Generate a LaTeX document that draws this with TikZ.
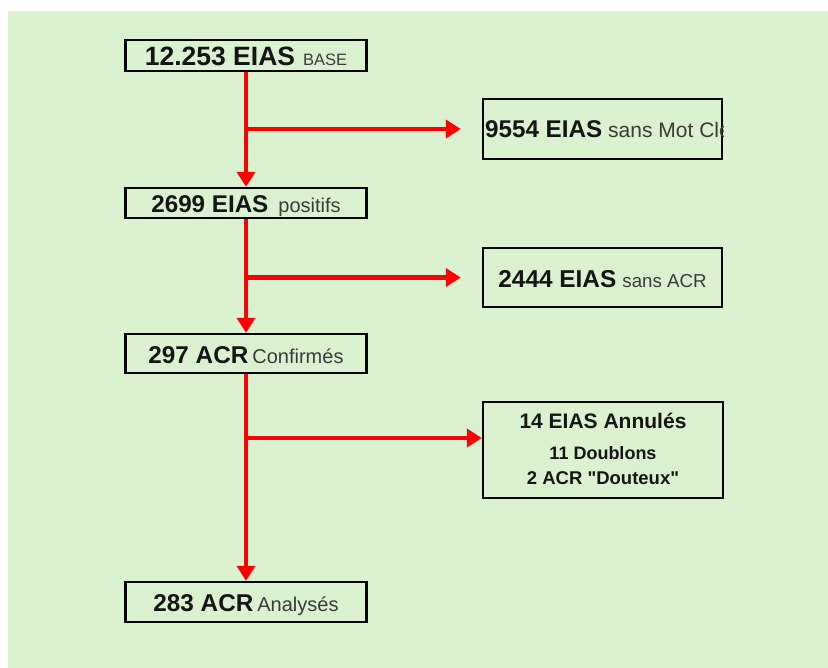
\documentclass[tikz,border=0pt]{standalone}
\usepackage{fontspec}
\setmainfont{Liberation Sans}
\usetikzlibrary{arrows.meta,calc}
\definecolor{bggreen}{HTML}{DAF2D0}
\definecolor{flowred}{HTML}{FF0000}
\definecolor{subgray}{HTML}{3A3A3A}
\definecolor{ink}{HTML}{141414}
\newcommand{\fsz}[1]{\fontsize{#1}{#1}\selectfont}
\newcommand{\subt}[2]{{\fsz{#1}\mdseries\color{subgray}#2}}
\begin{document}
\begin{tikzpicture}[x=1pt,y=-1pt,
  box/.style={draw=black, line width=2.4pt, inner sep=0pt, text height=19.5pt, text depth=0pt, text=ink},
  flow/.style={draw=flowred, line width=4.5pt, -{Triangle[length=15pt,width=18pt]}},
  txt/.style={anchor=base, inner sep=0pt, text=ink}]
\fill[white] (0,0) rectangle (828,668);
\fill[bggreen] (8,11) rectangle (828,668);
\useasboundingbox (0,0) rectangle (828,668);

% left column
\node[box, minimum width=241pt, minimum height=31pt] (b1) at (246,55.5)
  {\fsz{26.5}\bfseries 12.253 EIAS\hspace{8pt}\subt{16.5}{BASE}};
\node[box, minimum width=241pt, minimum height=30pt] (b2) at (246,203)
  {\fsz{24.2}\bfseries 2699 EIAS\hspace{10pt}\subt{20}{positifs}};
\node[box, minimum width=241pt, minimum height=39pt] (b3) at (246,353.5)
  {\fsz{24.3}\bfseries 297 ACR\hspace{4pt}\subt{20}{Confirmés}};
\node[box, minimum width=241pt, minimum height=40pt] (b4) at (246,602)
  {\fsz{24.3}\bfseries 283 ACR\hspace{4pt}\subt{20}{Analysés}};

% right column
\node[box, minimum width=239pt, minimum height=60pt] (r1) at (602.5,129) {};
\begin{scope}
  \clip (r1.north west) rectangle (r1.south east);
  \node[txt, anchor=base west] (r1t) at (485,138)
    {\fsz{24.2}\bfseries 9554 EIAS\hspace{6pt}\subt{21}{sans Mot Clé}};
\end{scope}
\node[box, minimum width=239pt, minimum height=59pt] (r2) at (602.5,277.5)
  {\fsz{24.4}\bfseries 2444 EIAS\hspace{6pt}\subt{18.7}{sans ACR}};
\node[box, minimum width=240pt, minimum height=96pt] (r3) at (603,450) {};
\node[txt] (r3a) at (603,429) {\fsz{21}\bfseries 14 EIAS Annulés};
\node[txt] (r3b) at (603,460) {\fsz{18}\bfseries 11 Doublons};
\node[txt] (r3c) at (603,485) {\fsz{18.5}\bfseries 2 ACR \textquotedbl Douteux\textquotedbl};

% connectors
\draw[flow] (b1.south) -- (b2.north);
\draw[flow] (b2.south) -- (b3.north);
\draw[flow] (b3.south) -- (b4.north);
\draw[flow, shorten >=21pt] (b1.south |- r1.west) -- (r1.west);
\draw[flow, shorten >=21pt] (b2.south |- r2.west) -- (r2.west);
\coordinate (j3) at ($(b3.south |- r3.west)+(0,-12)$);
\draw[flow] (j3) -- (j3 -| r3.west);
\end{tikzpicture}
\end{document}
